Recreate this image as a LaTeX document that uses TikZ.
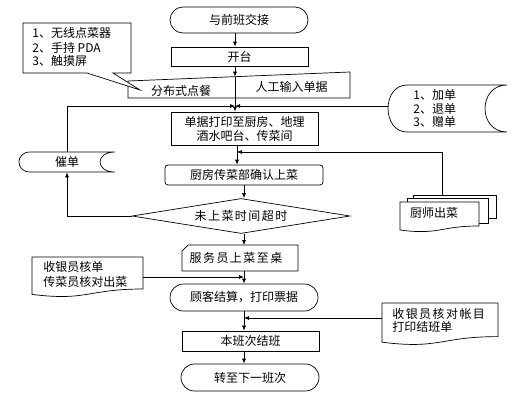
\documentclass[tikz,border=0pt]{standalone}
\usepackage{fontspec}
\newfontfamily\cjk{Noto Sans CJK SC}
\newfontfamily\cjkw[LetterSpace=12]{Noto Sans CJK SC}
\usetikzlibrary{shapes.misc,shapes.geometric,arrows.meta}
\begin{document}
\begin{tikzpicture}[x=1pt,y=-1pt,line width=0.7pt,
  every node/.style={font=\cjk\fontsize{12}{14}\selectfont,inner sep=0pt},
  box/.style={draw,fill=white,rectangle},
  term/.style={draw,fill=white,rounded rectangle},
  shp/.style={draw,fill=white},
  arr/.style={-{Latex[length=5pt,width=4pt]}}]
\useasboundingbox[fill=white] (0,0) rectangle (529,415);
% axis reference coordinates
\coordinate (xU) at (235,0);
\coordinate (xM) at (237,0);
\coordinate (xL) at (244,0);
% main column
\node[term,minimum width=138pt,minimum height=26pt] (start) at (239,20) {与前班交接};
\node[box,minimum width=137pt,minimum height=19pt] (kaitai) at (239.5,56.5) {开台};
% manual input
\draw[shp] (128,81) -- (350,72) -- (350,98) -- (128,98) -- cycle;
\coordinate (mtop) at (235,76.7);
\node (fenbu) at (181,91) {分布式点餐};
\node (rengong) at (291.5,87) {人工输入单据};
% callout
\draw[shp] (23,23) -- (131,23) -- (131,73) -- (113,73) -- (140,90) -- (87,73) -- (23,73) -- cycle;
\node[anchor=west] (c1) at (32,33) {1、无线点菜器};
\node[anchor=west] (c2) at (32,48) {2、手持 PDA};
\node[anchor=west] (c3) at (32,61) {3、触摸屏};
\node[box,minimum width=147pt,minimum height=33pt,align=center] (danju) at (244.5,128.5) {单据打印至厨房、地理\\酒水吧台、传菜间};
\node[box,rounded corners=3pt,minimum width=158pt,minimum height=20pt] (chufang) at (244,175) {厨房传菜部确认上菜};
\node[diamond,draw,fill=white,shape aspect=6.2,minimum width=218pt,minimum height=35pt] (dia) at (241,216) {\cjkw 未上菜时间超时};
% card shape
\draw[shp] (188,245) -- (298,245) -- (298,271) -- (182,271) -- (182,251) -- cycle;
\node (fuwu) at (236,258) {\cjkw 服务员上菜至桌};
\coordinate (fuwuT) at (244,245);
\coordinate (fuwuB) at (244,271);
\node[term,minimum width=148pt,minimum height=27pt] (guke) at (244,297.5) {顾客结算，打印票据};
\node[box,minimum width=137pt,minimum height=20pt] (benban) at (250.5,341) {本班次结班};
\node[term,minimum width=138pt,minimum height=27pt] (zhuan) at (250,377.5) {转至下一班次};
% stored data: cuidan
\draw[shp] (30,152) -- (115,152) .. controls (95,152) and (95,172) .. (115,172) -- (30,172) .. controls (15.3,172) and (15.3,152) .. (30,152) -- cycle;
\node[minimum width=96pt,minimum height=20pt] (cuidan) at (67,162) {催单};
% stored data: jiadan
\draw[shp] (407,85) -- (507,85) .. controls (477.7,85) and (477.7,132) .. (507,132) -- (407,132) .. controls (381.7,132) and (381.7,85) .. (407,85) -- cycle;
\node[minimum width=119pt,minimum height=47pt] (jiadan) at (447.5,108.5) {};
\node[anchor=west] (j1) at (413,95) {1、加单};
\node[anchor=west] (j2) at (413,108.5) {2、退单};
\node[anchor=west] (j3) at (413,122) {3、赠单};
% multidocument: chushi
\draw[shp] (413,195) rectangle (496,218);
\draw[shp] (407,198.5) rectangle (488,223);
\draw[shp] (400,202) -- (479,202) -- (479,226) .. controls (439.5,226) and (439.5,235.2) .. (400,230) -- cycle;
\node (chushi) at (434,213) {厨师出菜};
\coordinate (chushiTop) at (442,195);
% document: shouyin1
\draw[shp] (32,257) -- (143,257) -- (143,289) .. controls (87.5,289) and (87.5,301.3) .. (32,294.4) -- cycle;
\node[anchor=west] (s1a) at (43,267) {收银员核单};
\node[anchor=west] (s1b) at (43,282) {传菜员核对出菜};
\coordinate (sy1) at (143,277);
% document: shouyin2
\draw[shp] (382,303) -- (498,303) -- (498,336.6) .. controls (440,336.6) and (440,349.5) .. (382,342.2) -- cycle;
\node[anchor=west] (s2a) at (392,314) {\cjkw 收银员核对帐目};
\node[anchor=west] (s2b) at (392,327) {打印结班单};
\coordinate (sy2) at (382,318);
% junction coordinates
\coordinate (j106) at (235,106);
\coordinate (j152) at (237,152);
\coordinate (j277) at (244,277);
\coordinate (j318) at (244,318);
% connectors
\draw[arr] (start.south -| xU) -- (kaitai.north -| xU);
\draw[arr] (kaitai.south -| xU) -- (mtop);
\draw[arr] (mtop) -- (danju.north -| xU);
\draw[arr] (cuidan.north) |- (j106);
\draw[arr] (jiadan.west |- j106) -- (j106);
\draw[arr] (danju.south -| xM) -- (chufang.north -| xM);
\draw[arr] (chushiTop) |- (j152);
\draw[arr] (chufang.south -| xL) -- (dia.north -| xL);
\draw[arr] (dia.west) -| (cuidan.south);
\draw[arr] (dia.south -| xL) -- (fuwuT);
\draw[arr] (fuwuB) -- (guke.north -| xL);
\draw[arr] (sy1) -- (j277);
\draw[arr] (guke.south -| xL) -- (benban.north -| xL);
\draw[arr] (sy2) -- (j318);
\draw[arr] (benban.south -| xL) -- (zhuan.north -| xL);
\end{tikzpicture}
\end{document}
